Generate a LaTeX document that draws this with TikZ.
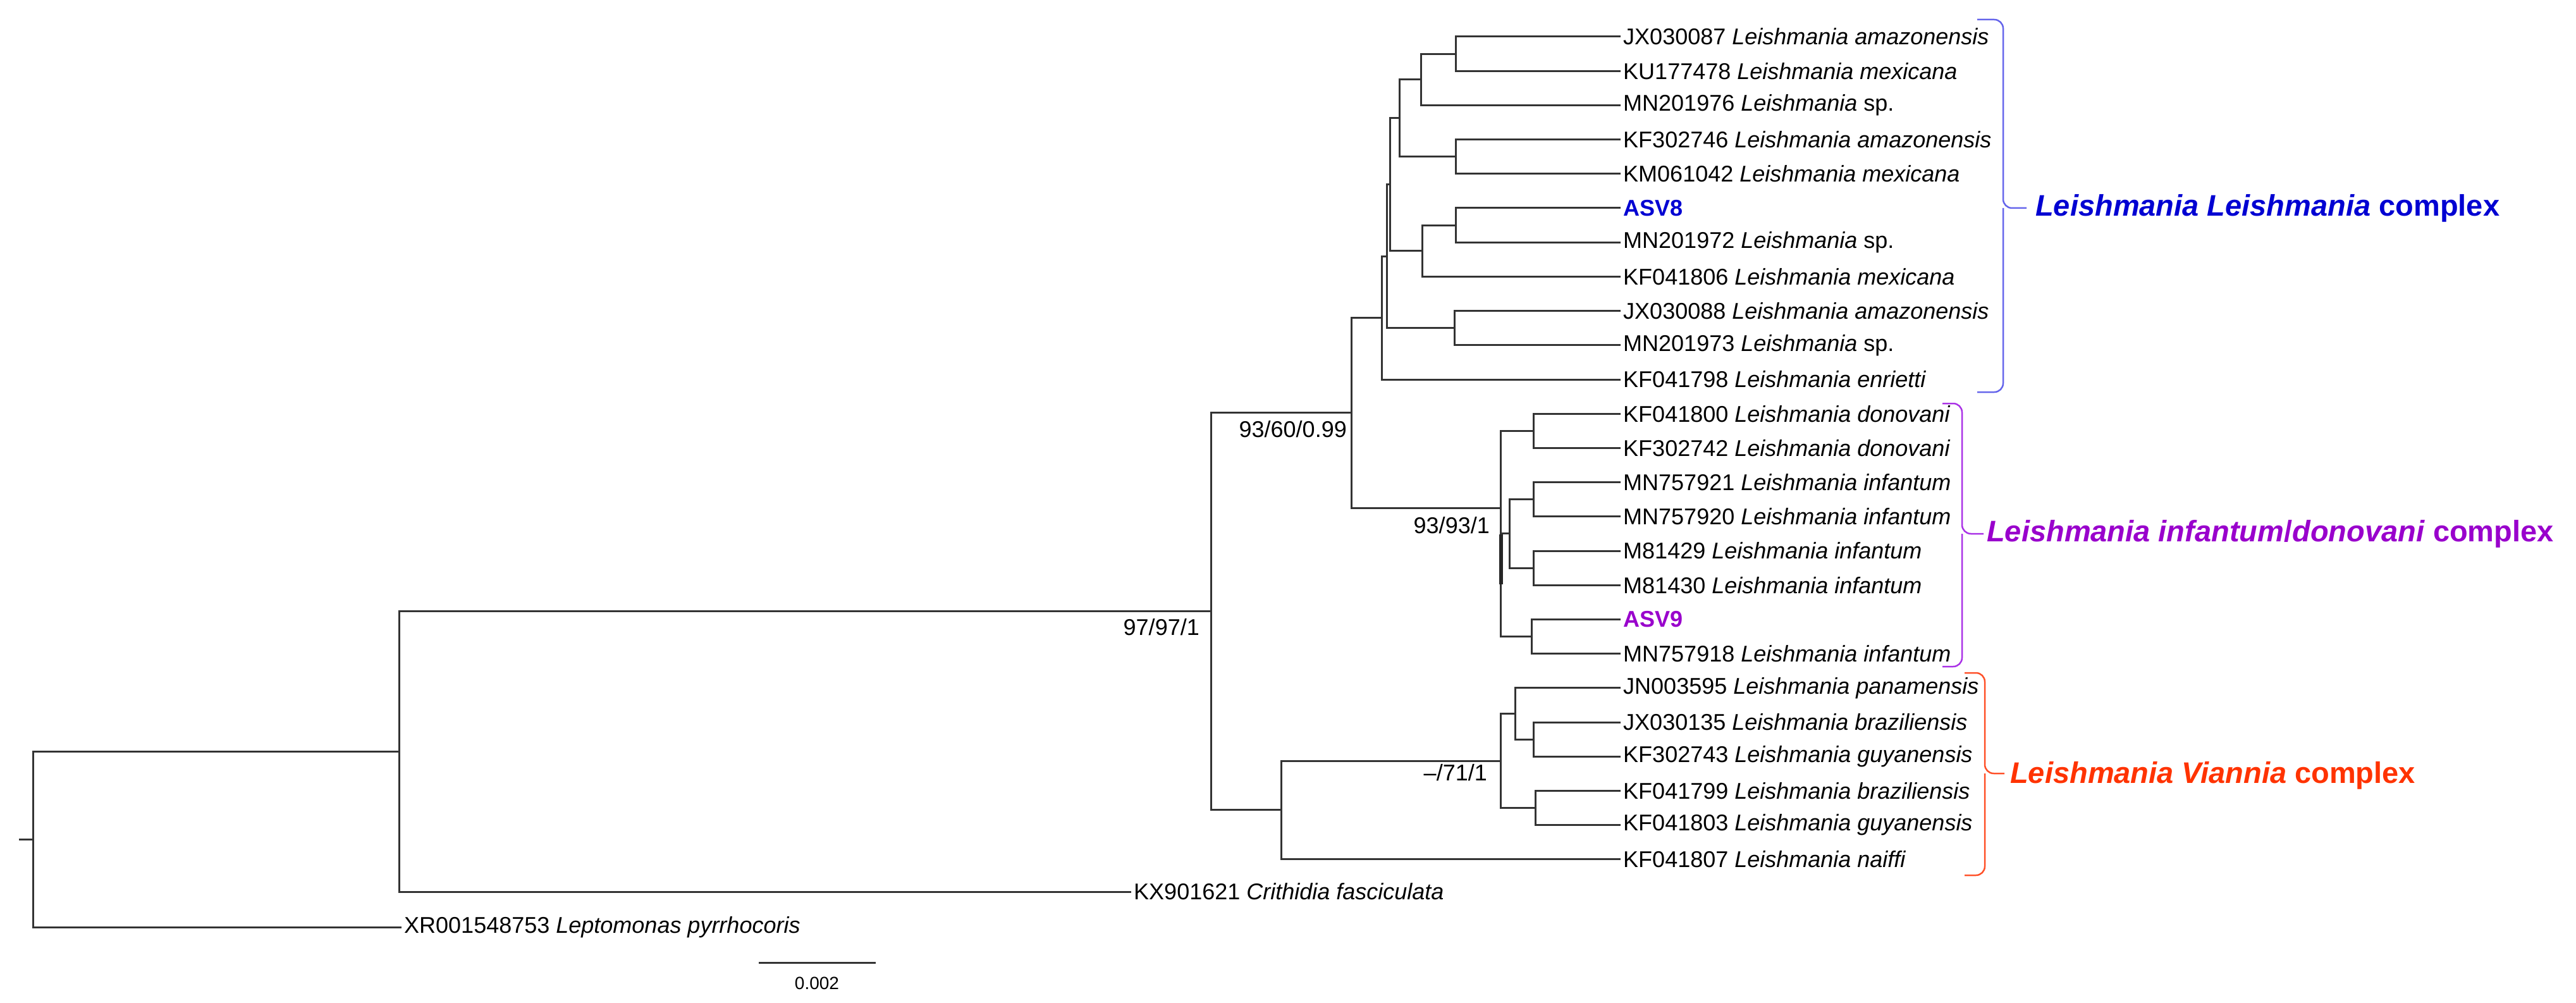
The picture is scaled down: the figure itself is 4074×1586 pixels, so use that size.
\documentclass[tikz,border=0pt]{standalone}
\usepackage{fontspec}
\setmainfont{Liberation Sans}
\definecolor{cblue}{RGB}{0,0,210}
\definecolor{cpurple}{RGB}{153,0,204}
\definecolor{cred}{RGB}{255,51,0}
\definecolor{bblue}{RGB}{100,100,235}
\definecolor{bpurple}{RGB}{170,50,230}
\definecolor{bred}{RGB}{255,80,40}
\tikzset{
  br/.style={line width=3pt, draw=black!80, line cap=rect},
  leaflab/.style={anchor=west, inner sep=0pt, font=\fontsize{36}{40}\selectfont},
  supp/.style={anchor=north east, inner sep=0pt, font=\fontsize{36}{40}\selectfont},
  cplx/.style={anchor=west, inner sep=0pt, font=\fontsize{47}{52}\selectfont\bfseries},
  brack/.style={line width=2.5pt, rounded corners=14pt},
}
\begin{document}
\begin{tikzpicture}[x=1pt,y=-1pt]
\useasboundingbox (0,0) rectangle (4074,1586);
% leaves
\foreach \i/\t in {
 0/{JX030087 \textit{Leishmania amazonensis}},
 1/{KU177478 \textit{Leishmania mexicana}},
 2/{MN201976 \textit{Leishmania} sp.},
 3/{KF302746 \textit{Leishmania amazonensis}},
 4/{KM061042 \textit{Leishmania mexicana}},
 5/{\textcolor{cblue}{\bfseries ASV8}},
 6/{MN201972 \textit{Leishmania} sp.},
 7/{KF041806 \textit{Leishmania mexicana}},
 8/{JX030088 \textit{Leishmania amazonensis}},
 9/{MN201973 \textit{Leishmania} sp.},
 10/{KF041798 \textit{Leishmania enrietti}},
 11/{KF041800 \textit{Leishmania donovani}},
 12/{KF302742 \textit{Leishmania donovani}},
 13/{MN757921 \textit{Leishmania infantum}},
 14/{MN757920 \textit{Leishmania infantum}},
 15/{M81429 \textit{Leishmania infantum}},
 16/{M81430 \textit{Leishmania infantum}},
 17/{\textcolor{cpurple}{\bfseries ASV9}},
 18/{MN757918 \textit{Leishmania infantum}},
 19/{JN003595 \textit{Leishmania panamensis}},
 20/{JX030135 \textit{Leishmania braziliensis}},
 21/{KF302743 \textit{Leishmania guyanensis}},
 22/{KF041799 \textit{Leishmania braziliensis}},
 23/{KF041803 \textit{Leishmania guyanensis}},
 24/{KF041807 \textit{Leishmania naiffi}}}{
  \coordinate (t\i) at (2561,{58+54.2*\i});
  \node[leaflab] (l\i) at (2567,{58+54.2*\i}) {\t};
}
\coordinate (tKX) at (1787,1410);
\node[leaflab] (lKX) at (1793,1410) {KX901621 \textit{Crithidia fasciculata}};
\coordinate (tXR) at (633,1466);
\node[leaflab] (lXR) at (639,1466) {XR001548753 \textit{Leptomonas pyrrhocoris}};

% internal nodes
\coordinate (p01) at (2302,85.1);
\coordinate (L6) at (2247,125.8);
\coordinate (p34) at (2302,247.7);
\coordinate (L4) at (2213,186.7);
\coordinate (p56) at (2302,356.1);
\coordinate (L5) at (2249,396.7);
\coordinate (L3) at (2198,291.7);
\coordinate (p89) at (2300,518.7);
\coordinate (L2) at (2193,405.2);
\coordinate (L1) at (2185,502.6);
\coordinate (p1112) at (2425,681.3);
\coordinate (p1314) at (2425,789.7);
\coordinate (p1516) at (2425,898.1);
\coordinate (C) at (2387,843.9);
\coordinate (p1718) at (2422,1006.5);
\coordinate (A) at (2373,803);
\coordinate (N9360) at (2137,652.8);
\coordinate (p2021) at (2425,1169.1);
\coordinate (E) at (2396,1128.5);
\coordinate (p2223) at (2428,1277.5);
\coordinate (D) at (2373,1203);
\coordinate (H) at (2026,1280.9);
\coordinate (N97) at (1915,966.9);
\coordinate (R2) at (631,1188.5);
\coordinate (Root) at (52,1327);
\coordinate (stub) at (31,1327);

\draw[br] (p01) |- (t0) (p01) |- (t1);
\draw[br] (L6) |- (p01) (L6) |- (t2);
\draw[br] (p34) |- (t3) (p34) |- (t4);
\draw[br] (L4) |- (L6) (L4) |- (p34);
\draw[br] (p56) |- (t5) (p56) |- (t6);
\draw[br] (L5) |- (p56) (L5) |- (t7);
\draw[br] (L3) |- (L4) (L3) |- (L5);
\draw[br] (p89) |- (t8) (p89) |- (t9);
\draw[br] (L2) |- (L3) (L2) |- (p89);
\draw[br] (L1) |- (L2) (L1) |- (t10);
\draw[br] (p1112) |- (t11) (p1112) |- (t12);
\draw[br] (p1314) |- (t13) (p1314) |- (t14);
\draw[br] (p1516) |- (t15) (p1516) |- (t16);
\draw[br] (C) |- (p1314) (C) |- (p1516);
\draw[br] (p1718) |- (t17) (p1718) |- (t18);
\draw[br] (A) |- (p1112) (A) |- (p1718) (A |- C) -- (C);
\draw[line width=5.5pt, draw=black!85] (2374,845) -- (2374,924);
\draw[br] (N9360) |- (L1) (N9360) |- (A);
\draw[br] (p2021) |- (t20) (p2021) |- (t21);
\draw[br] (E) |- (t19) (E) |- (p2021);
\draw[br] (p2223) |- (t22) (p2223) |- (t23);
\draw[br] (D) |- (E) (D) |- (p2223);
\draw[br] (H) |- (D) (H) |- (t24);
\draw[br] (N97) |- (N9360) (N97) |- (H);
\draw[br] (R2) |- (N97) (R2) |- (tKX);
\draw[br] (Root) |- (R2) (Root) |- (tXR);
\draw[br] (stub) -- (Root);

% support values
\node[supp] (s1) at (2130,665) {93/60/0.99};
\node[supp] (s2) at (1897,978) {97/97/1};
\node[supp] (s3) at (2356,817) {93/93/1};
\node[supp] (s4) at (2352,1208) {--/71/1};

% scale bar
\coordinate (sb1) at (1200,1522);
\coordinate (sb2) at (1385,1522);
\draw[line width=3pt, draw=black!80] (sb1) -- (sb2);
\node[inner sep=0pt, font=\fontsize{28}{30}\selectfont] (sbl) at (1292,1555) {0.002};

% brackets
\draw[brack, bblue] (3127,31) -- (3168,31) -- (3168,329) -- (3205,329);
\draw[brack, bblue] (3127,620) -- (3168,620) -- (3168,329);
\draw[brack, bpurple] (3072,638) -- (3103,638) -- (3103,844) -- (3137,844);
\draw[brack, bpurple] (3072,1054) -- (3103,1054) -- (3103,844);
\draw[brack, bred] (3107,1064) -- (3139,1064) -- (3139,1223) -- (3170,1223);
\draw[brack, bred] (3107,1384) -- (3139,1384) -- (3139,1223);

\node[cplx, cblue] (c1) at (3219,329) {\textit{Leishmania Leishmania} complex};
\node[cplx, cpurple] (c2) at (3142,844) {\textit{Leishmania infantum}/\textit{donovani} complex};
\node[cplx, cred] (c3) at (3179,1226) {\textit{Leishmania Viannia} complex};
\end{tikzpicture}
\end{document}
